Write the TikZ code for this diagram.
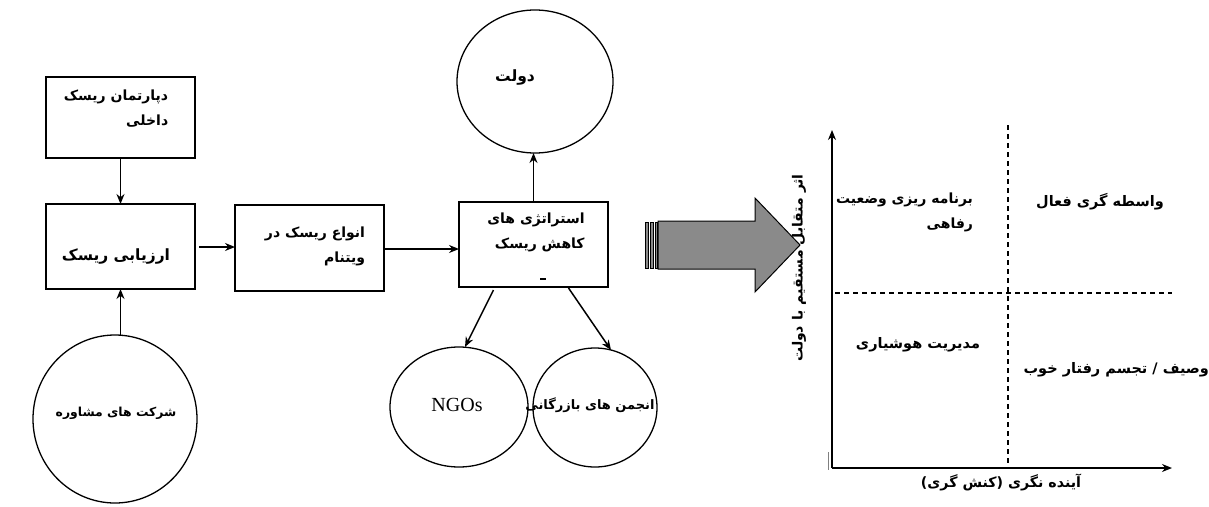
\documentclass[tikz,border=0pt]{standalone}
\usepackage{fontspec}
\setmainfont{Liberation Serif}
\TeXXeTstate=1
\newfontfamily\fa[Script=Arabic]{DejaVu Sans}
\usetikzlibrary{arrows.meta,shapes.geometric}
\definecolor{arrowgray}{RGB}{138,138,138}
\begin{document}
\begin{tikzpicture}[x=1pt,y=-1pt,
  every node/.style={inner sep=0pt, outer sep=0pt},
  stepbox/.style={draw, line width=1.6pt, minimum width=149pt},
  oval/.style={draw, line width=1.3pt, ellipse},
  fatxt/.style={font=\fa\bfseries\fontsize{14}{25}\selectfont, align=right},
  fsz/.style={font=\fa\bfseries\fontsize{#1}{25}\selectfont},
  arr/.style={line width=1.5pt, -{Stealth[length=10pt,width=8pt]}},
  dash line/.style={line width=1.3pt, dashed, dash pattern=on 5pt off 4pt}
]
\useasboundingbox (0,0) rectangle (1209,506);
\fill[white] (0,0) rectangle (1209,506);

% boxes
\node[stepbox, minimum height=81pt] (dep) at (120.5,117.5) {};
\node[fatxt, fsz=14] (deptxt) at (116,109) {\beginR دپارتمان ریسک\endR\\\beginR داخلی\endR};
\node[stepbox, minimum height=85pt] (arz) at (120.5,246.5) {};
\node[fatxt, fsz=15.5] (arztxt) at (116,256) {\beginR ارزیابی ریسک\endR};
\node[stepbox, minimum height=86pt] (anv) at (309.5,248) {};
\node[fatxt, fsz=14] (anvtxt) at (315,246) {\beginR انواع ریسک در\endR\\\beginR ویتنام\endR};
\node[stepbox, minimum height=85pt] (est) at (533.5,244.5) {};
\node[fatxt, fsz=14] (esttxt) at (536,232) {\beginR استراتژی های\endR\\\beginR کاهش ریسک\endR};
\draw[line width=1.2pt] (540,279) -- (546,279);

% ovals
\node[oval, minimum width=156pt, minimum height=143pt] (dol) at (535,81.5) {};
\node[fatxt, fsz=15.5] (doltxt) at (515,78) {\beginR دولت\endR};
\node[oval, minimum width=138pt, minimum height=120pt] (ngo) at (459,407) {};
\node[font=\fontsize{20}{24}\selectfont] (ngotxt) at (457,405) {NGOs};
\node[oval, minimum width=124pt, minimum height=119pt] (baz) at (595,407.5) {};
\node[fatxt, fsz=13] (baztxt) at (590,405) {\beginR انجمن های بازرگانی\endR};
\node[oval, minimum width=164pt, minimum height=168pt] (sho) at (115,419) {};
\node[fatxt, fsz=12.4] (shotxt) at (116,413) {\beginR شرکت های مشاوره\endR};

% connectors
\draw[arr] (dep.south) -- (arz.north);
\draw[arr] (sho.north -| arz.south) -- (arz.south);
\draw[arr, shorten <=4pt] ([yshift=-0.5pt]arz.east) -- ([yshift=-0.5pt]arz.east -| anv.west);
\draw[arr] ([yshift=-1pt]anv.east) -- ([yshift=-1pt]anv.east -| est.west);
\draw[arr] (est.north) -- (est.north |- dol.south);
\draw[arr] ([xshift=-40pt,yshift=-3pt]est.south) -- ([xshift=6pt]ngo.north);
\draw[arr] ([xshift=35pt,yshift=-1pt]est.south) -- ([xshift=16pt,yshift=-2pt]baz.north);

% big arrow
\draw[line width=1pt, fill=arrowgray] (658,221) -- (755,221) -- (755,198) -- (800,245) -- (755,292) -- (755,269) -- (658,269) -- cycle;
\foreach \xa/\xb in {645/648, 650/653, 655/657}
  \draw[line width=0.7pt, fill=arrowgray] (\xa,222) rectangle (\xb,268);

% quadrant chart
\coordinate (O) at (832,468);
\coordinate (Ytop) at (832,130);
\coordinate (Xend) at (1172,468);
\coordinate (Vt) at (1008,125);
\coordinate (Vb) at (1008,468);
\coordinate (Hl) at (835,293);
\coordinate (Hr) at (1172,293);
\draw[arr] (O) -- (Ytop);
\draw[arr] (O) -- (Xend);
\draw[line width=0.7pt, gray] (828,452) -- (828,470);
\draw[dash line] (Vt) -- (Vb);
\draw[dash line] (Hl) -- (Hr);

\node[fatxt, fsz=14, anchor=east] (q1) at (973,212) {\beginR برنامه ریزی وضعیت\endR\\\beginR رفاهی\endR};
\node[fatxt, fsz=14.5] (q2) at (1100,202) {\beginR واسطه گری فعال\endR};
\node[fatxt, fsz=14.5] (q3) at (918,345) {\beginR مدیریت هوشیاری\endR};
\node[fatxt, fsz=14.5, anchor=east] (q4) at (1209,370) {\beginR وصیف / تجسم رفتار خوب\endR};
\node[fatxt, fsz=14.2] (xl) at (1001,482) {\beginR آینده نگری (کنش گری)\endR};
\node[fatxt, fsz=14, rotate=90] (yl) at (799,268) {\beginR اثر متقابل مستقیم با دولت\endR};
\end{tikzpicture}
\end{document}
